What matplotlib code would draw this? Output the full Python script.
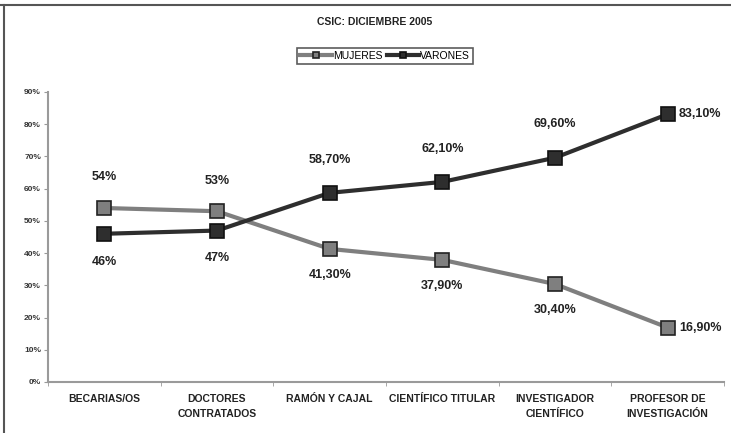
import numpy as np
import matplotlib
matplotlib.use('Agg')
import matplotlib.pyplot as plt
from matplotlib.lines import Line2D

categories = ['BECARIAS/OS', 'DOCTORES\nCONTRATADOS', 'RAMÓN Y CAJAL',
              'CIENTÍFICO TITULAR', 'INVESTIGADOR\nCIENTÍFICO',
              'PROFESOR DE\nINVESTIGACIÓN']
mujeres = [54.0, 53.0, 41.3, 37.9, 30.4, 16.9]
varones = [46.0, 47.0, 58.7, 62.1, 69.6, 83.1]
mujeres_lbl = ['54%', '53%', '41,30%', '37,90%', '30,40%', '16,90%']
varones_lbl = ['46%', '47%', '58,70%', '62,10%', '69,60%', '83,10%']
yticks = [0, 10, 20, 30, 40, 50, 60, 70, 80, 90]

FONT = ['Liberation Sans Narrow', 'Liberation Sans', 'DejaVu Sans']
plt.rcParams['font.family'] = FONT

W, H = 731, 433
fig = plt.figure(figsize=(W/100, H/100), dpi=100)

# frame lines (top and left)
fig.add_artist(Line2D([0, 1], [1 - 5/H, 1 - 5/H], transform=fig.transFigure,
                      color='#555555', lw=1.5))
fig.add_artist(Line2D([4/W, 4/W], [0, 1 - 5/H], transform=fig.transFigure,
                      color='#555555', lw=1.5))

left, right, top, bottom = 48, 724, 92, 382
ax = fig.add_axes([left/W, (H-bottom)/H, (right-left)/W, (bottom-top)/H])

x = np.arange(len(categories))
gray = '#7f7f7f'
dark = '#2e2e2e'
ax.plot(x, mujeres, color=gray, lw=3, marker='s', ms=10,
        markerfacecolor=gray, markeredgecolor='#222222', mew=1.2,
        label='MUJERES', zorder=3)
ax.plot(x, varones, color=dark, lw=3, marker='s', ms=10,
        markerfacecolor=dark, markeredgecolor='#111111', mew=1.2,
        label='VARONES', zorder=3)

ax.set_xlim(-0.5, len(categories) - 0.5)
ax.set_ylim(0, 90)
ax.set_yticks(yticks)
ax.set_yticklabels(['%d%%' % v for v in yticks], fontsize=6, fontweight='bold',
                   color='#333333')
ax.set_xticks(x)
ax.set_xticklabels(categories, fontsize=7.5, fontweight='bold', color='#222222',
                   linespacing=1.6)
ax.set_xticks(np.arange(len(categories) + 1) - 0.5, minor=True)
ax.tick_params(axis='x', which='major', length=0, pad=9)
ax.tick_params(axis='x', which='minor', length=3, color='#999999')
ax.tick_params(axis='y', length=3, color='#999999', pad=2)
for s in ['top', 'right']:
    ax.spines[s].set_visible(False)
for s in ['left', 'bottom']:
    ax.spines[s].set_color('#9a9a9a')
    ax.spines[s].set_linewidth(1.5)

lab_kw = dict(fontsize=9, fontweight='bold', color='#222222',
              ha='center', va='center')
n = len(categories)
for i in range(n):
    m, v = mujeres[i], varones[i]
    if i == n - 1:
        ax.annotate(mujeres_lbl[i], (i, m), xytext=(8, 0),
                    textcoords='offset points', **{**lab_kw, 'ha': 'left'})
        ax.annotate(varones_lbl[i], (i, v), xytext=(8, 0),
                    textcoords='offset points', **{**lab_kw, 'ha': 'left'})
    elif m > v:
        ax.annotate(mujeres_lbl[i], (i, m), xytext=(0, 22),
                    textcoords='offset points', **lab_kw)
        ax.annotate(varones_lbl[i], (i, v), xytext=(0, -20),
                    textcoords='offset points', **lab_kw)
    else:
        ax.annotate(varones_lbl[i], (i, v), xytext=(0, 24),
                    textcoords='offset points', **lab_kw)
        ax.annotate(mujeres_lbl[i], (i, m), xytext=(0, -19),
                    textcoords='offset points', **lab_kw)

fig.text(375/W, 1 - 22/H, 'CSIC: DICIEMBRE 2005', ha='center', va='center',
         fontsize=7.5, fontweight='bold', color='#222222')

leg = fig.legend(loc='center', bbox_to_anchor=(385/W, 1 - 56/H), ncol=2,
                 frameon=True, fancybox=False, fontsize=7.5, handlelength=3,
                 handletextpad=0.1, columnspacing=0.5, borderpad=0.3,
                 markerscale=0.5)
leg.get_frame().set_edgecolor('#333333')
leg.get_frame().set_linewidth(1.2)

fig.savefig('out.png', dpi=100)
